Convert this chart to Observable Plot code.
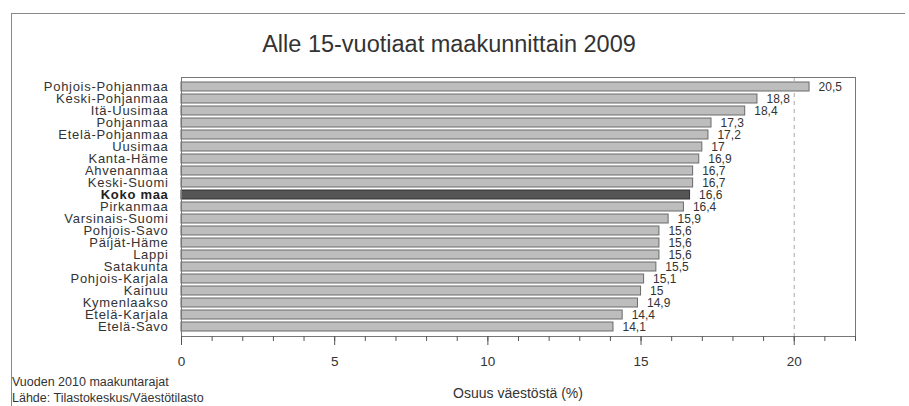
<!DOCTYPE html>
<html>
<head>
<meta charset="utf-8">
<script src="https://cdn.jsdelivr.net/npm/d3@7"></script>
<script src="https://cdn.jsdelivr.net/npm/@observablehq/plot@0.6"></script>
<style>
  html, body { margin: 0; padding: 0; background: #fff; }
  #wrap { position: relative; width: 909px; height: 406px; overflow: hidden; font-family: "Liberation Sans", Arial, sans-serif; color: #333; }
  #border { position: absolute; left: 11px; top: 13px; width: 893px; height: 400px; border-top: 1px solid #888; border-left: 1px solid #888; }
  #title { position: absolute; left: 0; width: 898px; top: 31px; text-align: center; font-size: 23.5px; color: #333; }
  .note { position: absolute; left: 12px; font-size: 12.5px; color: #333; white-space: nowrap; }
  #xlabel { position: absolute; left: 418px; width: 200px; top: 385px; text-align: center; font-size: 14px; color: #333; }
  #chart { position: absolute; left: 0; top: 0; }
</style>
</head>
<body>
<div id="wrap">
  <div id="border"></div>
  <div id="chart"></div>
  <div id="title">Alle 15-vuotiaat maakunnittain 2009</div>
  <div class="note" style="top:375px">Vuoden 2010 maakuntarajat</div>
  <div class="note" style="top:391px">Lähde: Tilastokeskus/Väestötilasto</div>
  <div id="xlabel">Osuus väestöstä (%)</div>
</div>
<script>
const regions = ["Pohjois-Pohjanmaa","Keski-Pohjanmaa","Itä-Uusimaa","Pohjanmaa","Etelä-Pohjanmaa","Uusimaa","Kanta-Häme","Ahvenanmaa","Keski-Suomi","Koko maa","Pirkanmaa","Varsinais-Suomi","Pohjois-Savo","Päijät-Häme","Lappi","Satakunta","Pohjois-Karjala","Kainuu","Kymenlaakso","Etelä-Karjala","Etelä-Savo"];
const shares = [20.5,18.8,18.4,17.3,17.2,17,16.9,16.7,16.7,16.6,16.4,15.9,15.6,15.6,15.6,15.5,15.1,15,14.9,14.4,14.1];
const totalLabel = "Koko maa";
const majorTicks = [0,5,10,15,20];
const minorTicks = d3.range(0, 23, 1);
const gridTicks = [20];

const data = regions.map((r, i) => ({region: r, value: shares[i]}));
const fmt = v => String(v).replace(".", ",");

const chart = Plot.plot({
  width: 909,
  height: 406,
  marginLeft: 181,
  marginRight: 54,
  marginTop: 77,
  marginBottom: 70,
  style: {fontFamily: "Liberation Sans, Arial, sans-serif", background: "transparent", color: "#333"},
  x: {domain: [0, 22], axis: null},
  y: {domain: regions, axis: null, paddingInner: 0.24, paddingOuter: 0.04},
  marks: [
    Plot.ruleX(gridTicks, {stroke: "#aaa", strokeDasharray: "4,4", strokeWidth: 1}),
    Plot.barX(data.filter(d => d.region !== totalLabel), {x: "value", y: "region", fill: "#bdbdbd", stroke: "#6a6a6a", strokeWidth: 1}),
    Plot.barX(data.filter(d => d.region === totalLabel), {x: "value", y: "region", fill: "#555", stroke: "#333", strokeWidth: 1}),
    Plot.text(data, {x: "value", y: "region", text: d => fmt(d.value), textAnchor: "start", dx: 9, fontSize: 12, fill: "#333"}),
    Plot.text(data.filter(d => d.region !== totalLabel), {y: "region", text: "region", frameAnchor: "left", textAnchor: "end", dx: -13, fontSize: 13, fill: "#333"}),
    Plot.text(data.filter(d => d.region === totalLabel), {y: "region", text: "region", frameAnchor: "left", textAnchor: "end", dx: -13, fontSize: 13, fontWeight: "bold", fill: "#222"}),
    Plot.frame({stroke: "#777"}),
    Plot.axisX(minorTicks, {tickSize: 5, tickFormat: () => "", stroke: "#555", label: null}),
    Plot.axisX(majorTicks, {tickSize: 9, tickPadding: 11, fontSize: 13.5, stroke: "#555", fill: "#333", label: null})
  ]
});
chart.querySelectorAll("text").forEach(t => {
  if (regions.includes(t.textContent)) t.setAttribute("letter-spacing", "0.7");
});
document.getElementById("chart").appendChild(chart);
</script>
</body>
</html>
